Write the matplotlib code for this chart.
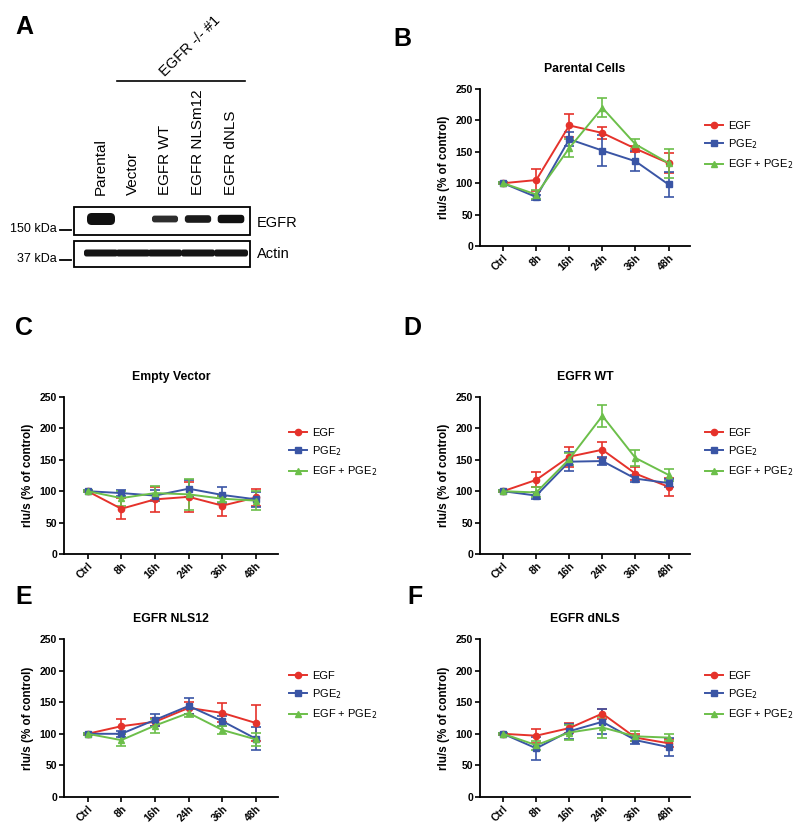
import matplotlib
matplotlib.use("Agg")
import matplotlib.pyplot as plt
from matplotlib.patches import FancyBboxPatch, Rectangle
from matplotlib.lines import Line2D

plt.rcParams["font.family"] = ["Liberation Sans", "DejaVu Sans"]

W, H = 800, 834

# --- blot (panel A) ---
lanes = ["Parental", "Vector", "EGFR WT", "EGFR NLSm12", "EGFR dNLS"]
egfr_signal = [1.0, 0.0, 0.35, 0.45, 0.55]
actin_signal = [1.0, 1.0, 1.0, 1.0, 1.0]

# --- luciferase time courses ---
timepoints = ["Ctrl", "8h", "16h", "24h", "36h", "48h"]
series_names = ["EGF", "PGE$_2$", "EGF + PGE$_2$"]

parental_egf = [100, 105, 192, 180, 155, 132]
parental_egf_err = [2, 17, 18, 10, 5, 16]
parental_pge2 = [100, 78, 170, 152, 135, 98]
parental_pge2_err = [2, 4, 11, 25, 16, 20]
parental_combo = [100, 82, 156, 220, 162, 132]
parental_combo_err = [2, 7, 14, 15, 8, 23]

vector_egf = [100, 72, 87, 91, 77, 90]
vector_egf_err = [2, 17, 20, 24, 16, 14]
vector_pge2 = [100, 97, 93, 104, 94, 87]
vector_pge2_err = [2, 5, 9, 14, 13, 12]
vector_combo = [100, 89, 97, 95, 88, 85]
vector_combo_err = [2, 12, 11, 25, 5, 15]

wt_egf = [100, 118, 155, 166, 128, 107]
wt_egf_err = [2, 12, 16, 13, 10, 14]
wt_pge2 = [100, 93, 147, 148, 120, 113]
wt_pge2_err = [2, 6, 15, 7, 6, 7]
wt_combo = [100, 98, 151, 220, 153, 126]
wt_combo_err = [2, 8, 10, 17, 13, 10]

nls_egf = [100, 112, 119, 141, 133, 117]
nls_egf_err = [2, 12, 6, 10, 15, 28]
nls_pge2 = [100, 100, 122, 144, 120, 92]
nls_pge2_err = [2, 5, 10, 12, 8, 18]
nls_combo = [100, 90, 113, 133, 106, 91]
nls_combo_err = [2, 9, 11, 6, 6, 10]

dnls_egf = [100, 97, 109, 132, 94, 85]
dnls_egf_err = [2, 11, 8, 8, 5, 6]
dnls_pge2 = [100, 77, 104, 119, 90, 79]
dnls_pge2_err = [2, 18, 12, 20, 6, 14]
dnls_combo = [100, 82, 102, 110, 96, 94]
dnls_combo_err = [2, 7, 12, 17, 8, 6]

colors = ["#E5322B", "#3A55A5", "#6CBF4A"]
markers = ["o", "s", "^"]

fig = plt.figure(figsize=(W / 100, H / 100), dpi=100)


def px_axes(x0, y0, x1, y1):
    return fig.add_axes([x0 / W, 1 - y1 / H, (x1 - x0) / W, (y1 - y0) / H])


# ---------------- Panel A: western blot ----------------
ax_a = px_axes(0, 0, 300, 290)
ax_a.set_xlim(0, 300)
ax_a.set_ylim(290, 0)
ax_a.axis("off")

lane_x = [101, 133, 165, 198, 231]
for cx, name in zip(lane_x, lanes):
    ax_a.text(cx, 195, name, rotation=90, ha="center", va="bottom", fontsize=11)

ax_a.plot([117, 245], [81, 81], color="black", lw=1.2)
ax_a.text(190, 46, "EGFR -/- #1", rotation=45, ha="center", va="center", fontsize=10.5)

ax_a.add_patch(Rectangle((74, 207), 176, 28, fill=False, ec="black", lw=1.3))
ax_a.add_patch(Rectangle((74, 241), 176, 26, fill=False, ec="black", lw=1.3))

for cx, s in zip(lane_x, egfr_signal):
    if s <= 0:
        continue
    h = 4 + 8 * s
    w = 25 + 3 * s
    ax_a.add_patch(FancyBboxPatch((cx - w / 2, 219 - h / 2), w, h,
                                  boxstyle="round,pad=0,rounding_size=%.1f" % (h / 2.5),
                                  fc="#111111", ec="none", alpha=0.6 + 0.4 * min(1, s * 2)))

for cx, s in zip(lane_x, actin_signal):
    ax_a.add_patch(FancyBboxPatch((cx - 17, 249.5), 34, 7 * s,
                                  boxstyle="round,pad=0,rounding_size=2.5",
                                  fc="#151515", ec="none"))

ax_a.text(257, 223, "EGFR", ha="left", va="center", fontsize=10.5)
ax_a.text(257, 254, "Actin", ha="left", va="center", fontsize=10.5)
ax_a.text(57, 229, "150 kDa", ha="right", va="center", fontsize=9)
ax_a.plot([60, 71], [229.5, 229.5], color="black", lw=1.3)
ax_a.text(57, 259, "37 kDa", ha="right", va="center", fontsize=9)
ax_a.plot([60, 71], [260, 260], color="black", lw=1.3)


# ---------------- line panels ----------------
panels = [
    ("Parental Cells", (480, 89, 690, 246), (705, 146),
     [(parental_egf, parental_egf_err), (parental_pge2, parental_pge2_err),
      (parental_combo, parental_combo_err)]),
    ("Empty Vector", (64, 397, 278, 554), (289, 453),
     [(vector_egf, vector_egf_err), (vector_pge2, vector_pge2_err),
      (vector_combo, vector_combo_err)]),
    ("EGFR WT", (480, 397, 690, 554), (705, 453),
     [(wt_egf, wt_egf_err), (wt_pge2, wt_pge2_err), (wt_combo, wt_combo_err)]),
    ("EGFR NLS12", (64, 639, 278, 797), (289, 696),
     [(nls_egf, nls_egf_err), (nls_pge2, nls_pge2_err), (nls_combo, nls_combo_err)]),
    ("EGFR dNLS", (480, 639, 690, 797), (705, 696),
     [(dnls_egf, dnls_egf_err), (dnls_pge2, dnls_pge2_err), (dnls_combo, dnls_combo_err)]),
]

x = list(range(len(timepoints)))
for title, box, leg_xy, series in panels:
    ax = px_axes(*box)
    for (vals, errs), c, m in zip(series, colors, markers):
        ax.errorbar(x, vals, yerr=errs, color=c, marker=m, ms=4.5, lw=1.4,
                    elinewidth=1.2, capsize=3.5, capthick=1.2, clip_on=False)
    ax.set_xlim(-0.7, 5.65)
    ax.set_ylim(0, 250)
    ax.set_yticks([0, 50, 100, 150, 200, 250])
    ax.set_xticks(x)
    ax.set_xticklabels(timepoints, rotation=45, ha="right", rotation_mode="anchor",
                       fontsize=7.5, fontweight="bold")
    for lab in ax.get_yticklabels():
        lab.set_fontsize(7.5)
        lab.set_fontweight("bold")
    ax.tick_params(direction="out", length=3.5, width=1.2, pad=1.5)
    for side in ["top", "right"]:
        ax.spines[side].set_visible(False)
    for side in ["left", "bottom"]:
        ax.spines[side].set_linewidth(1.3)
    ax.set_ylabel("rlu/s (% of control)", fontsize=8.4, fontweight="bold", labelpad=4)
    ax.set_title(title, fontsize=8.8, fontweight="bold", pad=12)

    handles = [Line2D([0], [0], color=c, marker=m, ms=4.5, lw=1.4)
               for c, m in zip(colors, markers)]
    ax.legend(handles, series_names, loc="center left",
              bbox_to_anchor=(leg_xy[0] / W, 1 - leg_xy[1] / H),
              bbox_transform=fig.transFigure, frameon=False, fontsize=8,
              handlelength=1.6, handletextpad=0.5, labelspacing=0.6,
              borderpad=0, borderaxespad=0)

# panel letters
for letter, px, py in [("A", 15, 27), ("B", 393, 39), ("C", 15, 328),
                       ("D", 403, 328), ("E", 15, 597), ("F", 407, 597)]:
    fig.text(px / W, 1 - py / H, letter, fontsize=18, fontweight="bold",
             ha="left", va="center")

fig.savefig("out.png", dpi=100)
